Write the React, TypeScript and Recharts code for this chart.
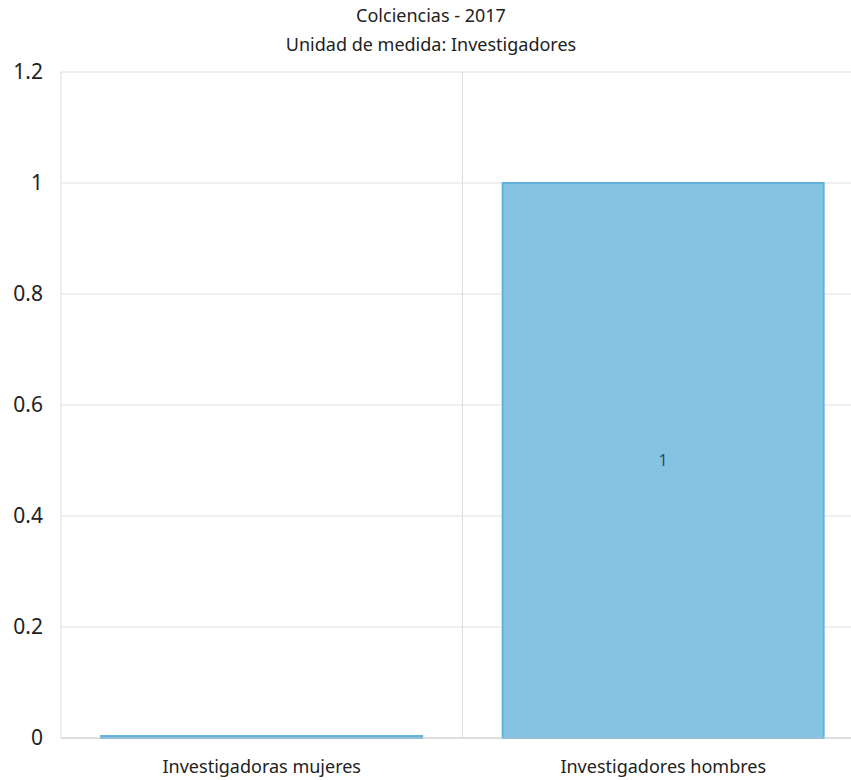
import React from 'react';
import { ComposedChart, Bar, XAxis, YAxis, CartesianGrid, ReferenceLine, LabelList } from 'recharts';

const categories = ['Investigadoras mujeres', 'Investigadores hombres'];
const values = [0, 1];
const yTicks = [0, 0.2, 0.4, 0.6, 0.8, 1, 1.2];

const source = 'Colciencias - 2017';
const unit = 'Unidad de medida: Investigadores';

const data = categories.map((name, i) => ({ name, value: values[i], pos: i }));

const FONT = '"Segoe UI", "Noto Sans", "Open Sans", sans-serif';

export default function App() {
  return (
    <div
      style={{
        position: 'absolute',
        left: 0,
        top: 0,
        width: 851,
        height: 780,
        overflow: 'hidden',
        background: '#fff',
        fontFamily: FONT,
      }}
    >
      <div style={{ position: 'absolute', top: 3, left: 0, width: 862, textAlign: 'center', fontSize: 18, color: '#222' }}>
        {source}
      </div>
      <div style={{ position: 'absolute', top: 32, left: 0, width: 862, textAlign: 'center', fontSize: 18, color: '#222' }}>
        {unit}
      </div>
      <ComposedChart
        width={864}
        height={780}
        data={data}
        margin={{ top: 72, right: 0, left: 0, bottom: 0 }}
        barCategoryGap="10%"
      >
        <CartesianGrid vertical={false} stroke="#e0e0e0" />
        <XAxis
          dataKey="name"
          height={42}
          tickLine={false}
          tickSize={0}
          tickMargin={22}
          axisLine={{ stroke: '#cccccc' }}
          tick={{ fill: '#222', fontSize: 18, fontFamily: FONT }}
        />
        <XAxis
          xAxisId="split"
          dataKey="pos"
          type="number"
          domain={[0, 2]}
          allowDataOverflow
          hide
        />
        <YAxis
          width={61}
          domain={[0, 1.2]}
          ticks={yTicks}
          tickLine={false}
          tickSize={0}
          tickMargin={18}
          axisLine={{ stroke: '#dddddd' }}
          tick={{ fill: '#222', fontSize: 21, fontFamily: FONT }}
        />
        <ReferenceLine xAxisId="split" x={1} stroke="#dddddd" ifOverflow="extendDomain" />
        <Bar
          dataKey="value"
          fill="#85c3e3"
          stroke="#62b2da"
          strokeWidth={2}
          minPointSize={2}
          isAnimationActive={false}
        >
          <LabelList
            dataKey="value"
            position="center"
            formatter={(v: number) => (v === 0 ? '' : v)}
            style={{ fill: '#34495e', fontSize: 16, fontFamily: FONT }}
          />
        </Bar>
      </ComposedChart>
    </div>
  );
}
